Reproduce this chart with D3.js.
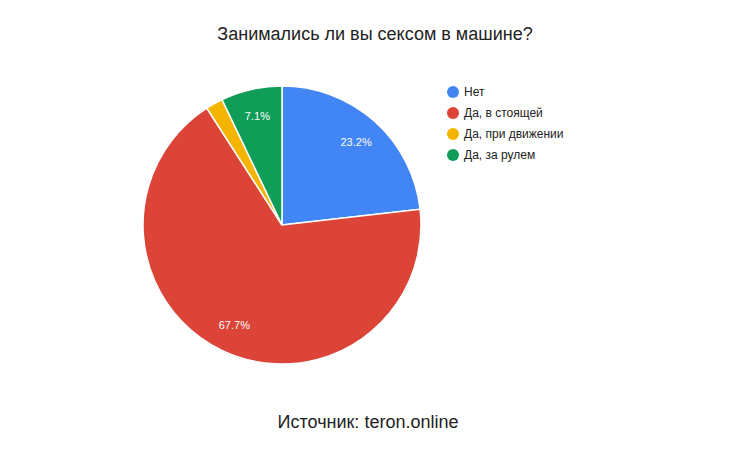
<!DOCTYPE html>
<html><head><meta charset="utf-8">
<script src="https://cdn.jsdelivr.net/npm/d3@7"></script>
<style>body{margin:0;background:#fff;font-family:"Liberation Sans",Arial,sans-serif;}</style>
</head><body><div id="chart"></div>
<script>
const categories = ['Нет','Да, в стоящей','Да, при движении','Да, за рулем'];
const values     = [23.2, 67.7, 2.0, 7.1];
const colors     = ['#4285f4','#db4437','#f4b400','#0f9d58'];
const labels     = ['23.2%','67.7%','','7.1%'];

;(function(){
  const W = 740, H = 450;
  const cx = 282, cy = 225, R = 139;

  const svg = d3.select('#chart').append('svg')
    .attr('width', W).attr('height', H);

  svg.append('text')
    .attr('x', 375).attr('y', 40)
    .attr('text-anchor','middle')
    .attr('font-size', 18).attr('fill','#222')
    .text('Занимались ли вы сексом в машине?');

  const data = categories.map((c,i) => ({name:c, value:values[i], color:colors[i], label:labels[i]}));
  const pie = d3.pie().sort(null).value(d=>d.value);
  const arc = d3.arc().innerRadius(0).outerRadius(R);
  const labelArc = d3.arc().innerRadius(R*0.8).outerRadius(R*0.8);

  const g = svg.append('g').attr('transform', `translate(${cx},${cy})`);
  const arcs = pie(data);

  g.selectAll('path').data(arcs).enter().append('path')
    .attr('d', arc)
    .attr('fill', d=>d.data.color)
    .attr('stroke','#fff').attr('stroke-width',1.5);

  g.selectAll('text').data(arcs.filter(d=>d.data.label)).enter().append('text')
    .attr('transform', d=>`translate(${labelArc.centroid(d)})`)
    .attr('text-anchor','middle').attr('dy','0.35em')
    .attr('font-size', 11).attr('fill','#fff')
    .text(d=>d.data.label);

  const leg = svg.append('g').attr('transform','translate(453,92)');
  const row = leg.selectAll('g').data(data).enter().append('g')
    .attr('transform',(d,i)=>`translate(0,${i*21})`);
  row.append('circle').attr('r',6).attr('fill',d=>d.color);
  row.append('text').attr('x',11).attr('dy','0.35em')
    .attr('font-size',12).attr('fill','#222').text(d=>d.name);

  svg.append('text')
    .attr('x', 368).attr('y', 428)
    .attr('text-anchor','middle')
    .attr('font-size', 18).attr('fill','#222')
    .text('Источник: teron.online');
})();
</script>
</body></html>
